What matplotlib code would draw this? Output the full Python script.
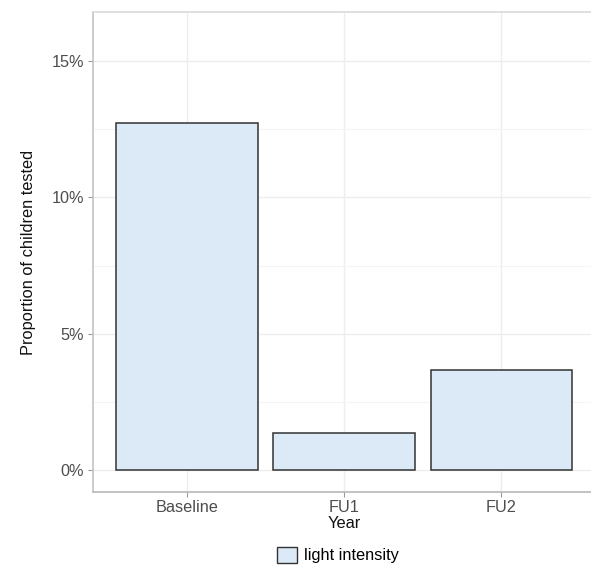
import matplotlib
matplotlib.use("Agg")
import matplotlib.pyplot as plt
from matplotlib.patches import Patch
from matplotlib.ticker import FuncFormatter, MultipleLocator

plt.rcParams['font.family'] = ['Liberation Sans', 'DejaVu Sans']

categories = ["Baseline", "FU1", "FU2"]
values = [12.74, 1.36, 3.69]
yticks = [0, 5, 10, 15]
legend_label = "light intensity"

W, H = 591, 567
fig = plt.figure(figsize=(W / 100, H / 100), dpi=100)
left, right, top, bottom = 92.5, 595.6, 12, 492
ax = fig.add_axes([left / W, 1 - bottom / H, (right - left) / W, (bottom - top) / H])

x = list(range(1, len(categories) + 1))
ax.bar(x, values, width=0.9, color="#dce9f6", edgecolor="#333333", linewidth=1.1, zorder=3)

ax.set_xlim(0.4, 3.6)
ax.set_ylim(-0.8, 16.8)
ax.set_xticks(x)
ax.set_xticklabels(categories)
ax.set_yticks(yticks)
ax.yaxis.set_minor_locator(MultipleLocator(2.5))
ax.yaxis.set_major_formatter(FuncFormatter(lambda v, p: f"{v:g}%"))

ax.grid(True, which="major", color="#ededed", linewidth=1.0, zorder=0)
ax.grid(True, which="minor", axis="y", color="#f4f4f4", linewidth=0.8, zorder=0)
ax.set_axisbelow(True)

ax.spines["right"].set_visible(False)
ax.spines["top"].set_color("#d9d9d9")
ax.spines["left"].set_color("#c4c4c4")
ax.spines["bottom"].set_color("#b8b8b8")
for s in ["top", "left", "bottom"]:
    ax.spines[s].set_linewidth(1.2)

ax.tick_params(axis="both", which="major", labelsize=11.7, colors="#9a9a9a",
               labelcolor="#4d4d4d", length=3.5, width=0.8, pad=2.5)
ax.tick_params(axis="y", which="minor", length=0)

ax.set_xlabel("Year", fontsize=11.8, color="#111111", labelpad=0.5)
ax.set_ylabel("Proportion of children tested", fontsize=11.8, color="#111111", labelpad=11)

handles = [Patch(facecolor="#dce9f6", edgecolor="#333333", linewidth=1.0, label=legend_label)]
fig.legend(handles=handles, loc="center", bbox_to_anchor=(338 / W, 1 - 555 / H),
           frameon=False, fontsize=11.8, handlelength=1.2, handleheight=1.2,
           handletextpad=0.4)

fig.savefig("out.png", dpi=100)
